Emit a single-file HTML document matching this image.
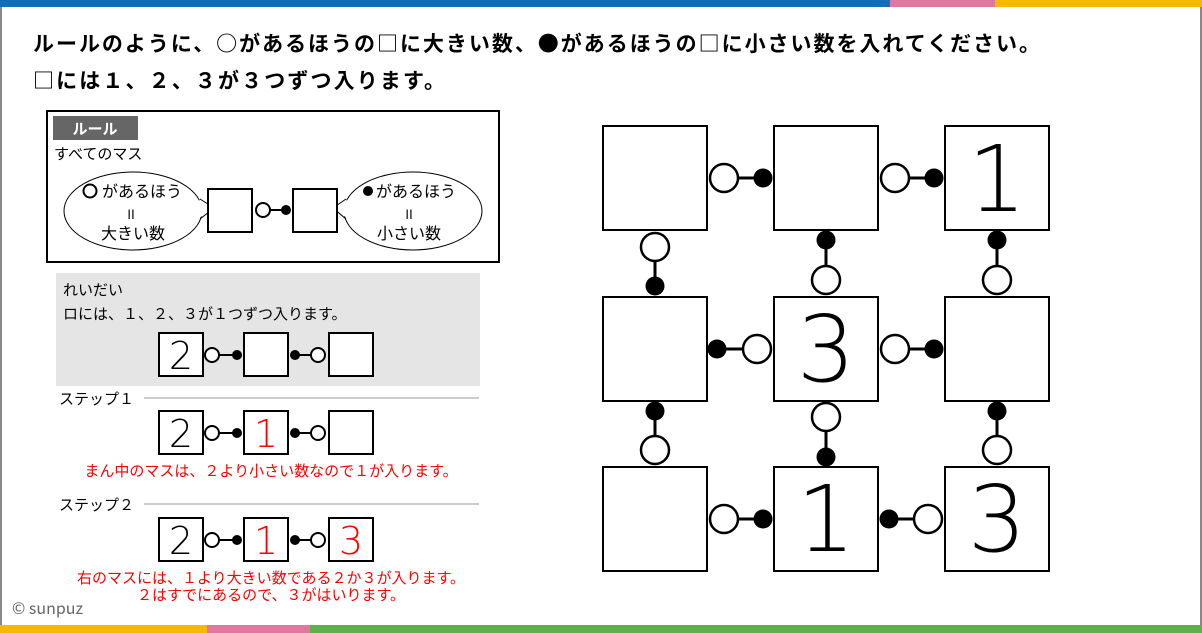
<!DOCTYPE html>
<html><head><meta charset="utf-8"><style>
html,body{margin:0;padding:0;background:#fff;}
svg{display:block;}
text{font-family:"Noto Sans CJK JP","Liberation Sans",sans-serif;}
.d{font-family:"DejaVu Sans ExtraLight","DejaVu Sans Light","Liberation Sans",sans-serif;font-weight:200;}
</style></head><body>
<svg width="1202" height="633" viewBox="0 0 1202 633" xmlns="http://www.w3.org/2000/svg">
<rect x="0" y="0" width="1202" height="633" fill="#fff"/>
<rect x="0" y="0" width="890" height="7" fill="#0e6fb8"/>
<rect x="890" y="0" width="105" height="7" fill="#e0779f"/>
<rect x="995" y="0" width="207" height="7" fill="#f6b800"/>
<rect x="0" y="625" width="207" height="8" fill="#f6b800"/>
<rect x="207" y="625" width="103" height="8" fill="#e0779f"/>
<rect x="310" y="625" width="892" height="8" fill="#5db04a"/>
<rect x="0" y="7" width="2" height="618" fill="#888"/>
<rect x="1200" y="7" width="2" height="618" fill="#888"/>

<text x="33" y="51" font-size="21" font-weight="bold" textLength="1007" lengthAdjust="spacing">ルールのように、○があるほうの□に大きい数、●があるほうの□に小さい数を入れてください。</text>
<text x="33" y="88" font-size="21" font-weight="bold" textLength="412" lengthAdjust="spacing">□には１、２、３が３つずつ入ります。</text>

<rect x="47" y="111" width="452" height="151" fill="#fff" stroke="#000" stroke-width="2"/>
<rect x="53" y="116" width="85" height="24" fill="#666"/>
<text x="95" y="134" font-size="15" font-weight="bold" fill="#fff" text-anchor="middle">ルール</text>
<text x="54" y="159" font-size="15">すべてのマス</text>
<ellipse cx="133" cy="211" rx="69" ry="39" fill="#fff" stroke="#000" stroke-width="1"/>
<ellipse cx="413" cy="211" rx="69" ry="39" fill="#fff" stroke="#000" stroke-width="1"/>
<polygon points="199,200 214,208 199,218" fill="#fff"/>
<polyline points="200,199 214,208 200,219" fill="none" stroke="#000" stroke-width="1"/>
<polygon points="347,200 333,208 347,218" fill="#fff"/>
<polyline points="346,199 333,208 346,219" fill="none" stroke="#000" stroke-width="1"/>
<rect x="208" y="189" width="44" height="43" fill="#fff" stroke="#000" stroke-width="2"/>
<rect x="293" y="189" width="44" height="43" fill="#fff" stroke="#000" stroke-width="2"/>
<line x1="263" y1="210" x2="286" y2="210" stroke="#000" stroke-width="2"/>
<circle cx="263" cy="210" r="7" fill="#fff" stroke="#000" stroke-width="2"/>
<circle cx="286" cy="210" r="5" fill="#000"/>
<circle cx="90" cy="191" r="6.5" fill="none" stroke="#000" stroke-width="2"/>
<text x="102" y="197" font-size="16">があるほう</text>
<text x="131" y="219" font-size="13" text-anchor="middle">II</text>
<text x="133" y="239" font-size="16" text-anchor="middle">大きい数</text>
<circle cx="368" cy="191" r="5" fill="#000"/>
<text x="376" y="197" font-size="16">があるほう</text>
<text x="409" y="219" font-size="13" text-anchor="middle">II</text>
<text x="409" y="239" font-size="16" text-anchor="middle">小さい数</text>

<rect x="56" y="273" width="424" height="113" fill="#e5e5e5"/>
<text x="63" y="295" font-size="15">れいだい</text>
<text x="63" y="319" font-size="15">ロには、１、２、３が１つずつ入ります。</text>

<g stroke="#000" stroke-width="2">
<rect x="159" y="333" width="44" height="43" fill="#fff"/>
<rect x="244" y="333" width="44" height="43" fill="#fff"/>
<rect x="329" y="333" width="44" height="43" fill="#fff"/>
<line x1="212" y1="355" x2="237" y2="355"/><line x1="295" y1="355" x2="318" y2="355"/>
<circle cx="212" cy="355" r="7" fill="#fff"/><circle cx="318" cy="355" r="7" fill="#fff"/>
</g>
<circle cx="237" cy="355" r="5"/><circle cx="295" cy="355" r="5"/>
<text class="d" x="181" y="369" font-size="38" text-anchor="middle">2</text>

<text x="59" y="404" font-size="15">ステップ１</text>
<line x1="144" y1="398" x2="479" y2="398" stroke="#999" stroke-width="1"/>
<g stroke="#000" stroke-width="2">
<rect x="159" y="411" width="44" height="43" fill="#fff"/>
<rect x="244" y="411" width="44" height="43" fill="#fff"/>
<rect x="329" y="411" width="44" height="43" fill="#fff"/>
<line x1="212" y1="433" x2="237" y2="433"/><line x1="295" y1="433" x2="318" y2="433"/>
<circle cx="212" cy="433" r="7" fill="#fff"/><circle cx="318" cy="433" r="7" fill="#fff"/>
</g>
<circle cx="237" cy="433" r="5"/><circle cx="295" cy="433" r="5"/>
<text class="d" x="181" y="447" font-size="38" text-anchor="middle">2</text>
<text class="d" x="266" y="447" font-size="38" text-anchor="middle" fill="#f00">1</text>
<text x="271" y="476" font-size="15" text-anchor="middle" fill="#f00">まん中のマスは、２より小さい数なので１が入ります。</text>

<text x="59" y="510" font-size="15">ステップ２</text>
<line x1="144" y1="504" x2="479" y2="504" stroke="#999" stroke-width="1"/>
<g stroke="#000" stroke-width="2">
<rect x="159" y="518" width="44" height="43" fill="#fff"/>
<rect x="244" y="518" width="44" height="43" fill="#fff"/>
<rect x="329" y="518" width="44" height="43" fill="#fff"/>
<line x1="212" y1="540" x2="237" y2="540"/><line x1="295" y1="540" x2="318" y2="540"/>
<circle cx="212" cy="540" r="7" fill="#fff"/><circle cx="318" cy="540" r="7" fill="#fff"/>
</g>
<circle cx="237" cy="540" r="5"/><circle cx="295" cy="540" r="5"/>
<text class="d" x="181" y="554" font-size="38" text-anchor="middle">2</text>
<text class="d" x="266" y="554" font-size="38" text-anchor="middle" fill="#f00">1</text>
<text class="d" x="351" y="554" font-size="38" text-anchor="middle" fill="#f00">3</text>
<text x="271" y="583" font-size="15" text-anchor="middle" fill="#f00">右のマスには、１より大きい数である２か３が入ります。</text>
<text x="271" y="600" font-size="15" text-anchor="middle" fill="#f00">２はすでにあるので、３がはいります。</text>

<text x="12" y="614" font-size="16" fill="#666">© sunpuz</text>

<g stroke="#000" stroke-width="2" fill="#fff">
<rect x="603" y="126" width="104" height="104"/>
<rect x="774" y="126" width="104" height="104"/>
<rect x="945" y="126" width="104" height="104"/>
<rect x="603" y="297" width="104" height="104"/>
<rect x="774" y="297" width="104" height="104"/>
<rect x="945" y="297" width="104" height="104"/>
<rect x="603" y="467" width="104" height="104"/>
<rect x="774" y="467" width="104" height="104"/>
<rect x="945" y="467" width="104" height="104"/>
</g>
<g stroke="#000" stroke-width="3">
<line x1="724" y1="178" x2="763" y2="178"/><line x1="895" y1="178" x2="934" y2="178"/>
<line x1="717" y1="349" x2="757" y2="349"/><line x1="895" y1="349" x2="934" y2="349"/>
<line x1="724" y1="519" x2="763" y2="519"/><line x1="889" y1="519" x2="928" y2="519"/>
<line x1="655" y1="247" x2="655" y2="286"/><line x1="826" y1="240" x2="826" y2="280"/><line x1="997" y1="240" x2="997" y2="280"/>
<line x1="655" y1="411" x2="655" y2="450"/><line x1="826" y1="417" x2="826" y2="457"/><line x1="997" y1="411" x2="997" y2="450"/>
</g>
<g stroke="#000" stroke-width="2.5" fill="#fff">
<circle cx="724" cy="178" r="14"/><circle cx="895" cy="178" r="14"/>
<circle cx="757" cy="349" r="14"/><circle cx="895" cy="349" r="14"/>
<circle cx="724" cy="519" r="14"/><circle cx="928" cy="519" r="14"/>
<circle cx="655" cy="247" r="14"/><circle cx="826" cy="280" r="14"/><circle cx="997" cy="280" r="14"/>
<circle cx="655" cy="450" r="14"/><circle cx="826" cy="417" r="14"/><circle cx="997" cy="450" r="14"/>
</g>
<g fill="#000">
<circle cx="763" cy="178" r="9.5"/><circle cx="934" cy="178" r="9.5"/>
<circle cx="717" cy="349" r="9.5"/><circle cx="934" cy="349" r="9.5"/>
<circle cx="763" cy="519" r="9.5"/><circle cx="889" cy="519" r="9.5"/>
<circle cx="655" cy="286" r="9.5"/><circle cx="826" cy="240" r="9.5"/><circle cx="997" cy="240" r="9.5"/>
<circle cx="655" cy="411" r="9.5"/><circle cx="826" cy="457" r="9.5"/><circle cx="997" cy="411" r="9.5"/>
</g>
<g class="d" font-size="92" text-anchor="middle" fill="#000">
<text class="d" x="997" y="211">1</text>
<text class="d" x="826" y="381">3</text>
<text class="d" x="826" y="551">1</text>
<text class="d" x="997" y="551">3</text>
</g>
</svg>
</body></html>
